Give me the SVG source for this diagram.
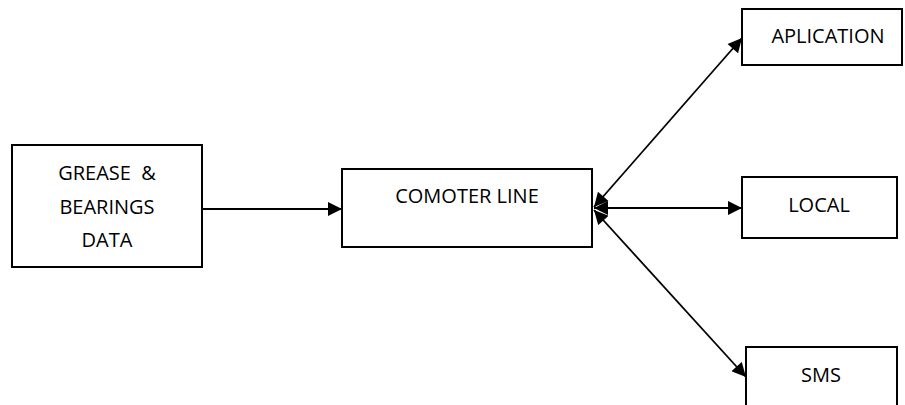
<svg xmlns="http://www.w3.org/2000/svg" width="905" height="405" viewBox="0 0 905 405">
<style>
.box{fill:#fff;stroke:#000;stroke-width:2}
.t{font-family:"Open Sans","Liberation Sans",sans-serif;font-size:20px;fill:#000;text-anchor:middle;white-space:pre}
.c{stroke:#000;stroke-width:1.8;fill:none}
</style>
<defs>
<marker id="ah2" viewBox="0 0 10 10" refX="10" refY="5" markerWidth="16" markerHeight="14" markerUnits="userSpaceOnUse" orient="auto-start-reverse">
<path d="M0,0 L10,5 L0,10 z" fill="#000"/>
</marker>
</defs>
<g id="connectors">
<line class="c" x1="202" y1="209" x2="342" y2="209" marker-end="url(#ah2)"/>
<line class="c" x1="594" y1="207" x2="742" y2="38" marker-start="url(#ah2)" marker-end="url(#ah2)"/>
<line class="c" x1="594" y1="208" x2="742" y2="208" marker-start="url(#ah2)" marker-end="url(#ah2)"/>
<line class="c" x1="594" y1="210" x2="746" y2="377" marker-start="url(#ah2)" marker-end="url(#ah2)"/>
</g>
<g id="grease">
<rect class="box" x="12" y="145" width="190" height="122"/>
<text class="t" x="107" y="180" xml:space="preserve">GREASE  &amp;</text>
<text class="t" x="107" y="214">BEARINGS</text>
<text class="t" x="107" y="247">DATA</text>
</g>
<g id="comoter">
<rect class="box" x="342" y="169" width="250" height="78"/>
<text class="t" x="467" y="203">COMOTER LINE</text>
</g>
<g id="aplication">
<rect class="box" x="742" y="9" width="160" height="56"/>
<text class="t" x="828" y="43">APLICATION</text>
</g>
<g id="local">
<rect class="box" x="742" y="177" width="155" height="61"/>
<text class="t" x="819" y="212">LOCAL</text>
</g>
<g id="sms">
<rect class="box" x="746" y="347" width="151" height="62"/>
<text class="t" x="821" y="382">SMS</text>
</g>
</svg>
